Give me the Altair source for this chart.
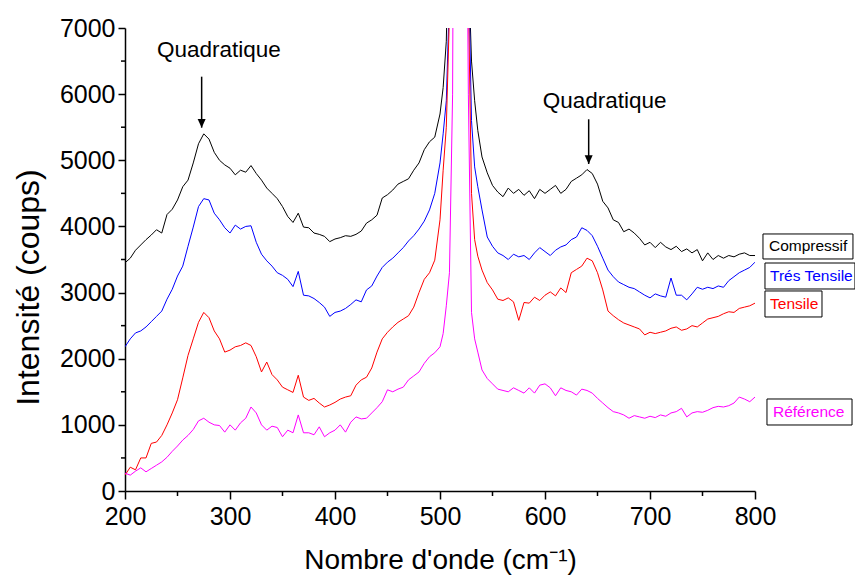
import altair as alt
import pandas as pd

# ---- data (Raman spectra) ----
nombre_onde = (list(range(200, 505, 5))
               + [503, 506, 509, 512, 516, 520, 524, 527, 530, 533, 536, 540]
               + list(range(545, 805, 5)))

compressif = [
    3450, 3520, 3640, 3720, 3800, 3870, 3950, 3900, 4180, 4260,
    4400, 4600, 4700, 4960, 5250, 5400, 5320, 5120, 5000, 4930,
    4880, 4780, 4850, 4820, 4920, 4800, 4700, 4580, 4500, 4420,
    4300, 4150, 4060, 4200, 3990, 3980, 3900, 3880, 3850, 3770,
    3810, 3830, 3860, 3850, 3880, 3930, 4050, 4100, 4170, 4430,
    4480, 4550, 4640, 4680, 4720, 4850, 4960, 5160, 5280, 5350,
    5700,
] + [6100, 6800, 9000, 14000, 30000, 40000, 25000, 8000, 6500, 5900, 5450, 5050] + [
    4810, 4620, 4520, 4450, 4580, 4500, 4560, 4470, 4540, 4420,
    4560, 4500, 4560, 4620, 4500, 4560, 4680, 4730, 4780, 4860,
    4800, 4640, 4380, 4280, 4100, 4060, 3920, 3960, 3900, 3820,
    3720, 3760, 3680, 3760, 3690, 3650, 3700, 3620, 3660, 3600,
    3650, 3480, 3600, 3500, 3560, 3520, 3560, 3540, 3580, 3600,
    3560, 3560,
]

tres_tensile = [
    2180, 2300, 2390, 2420, 2480, 2560, 2640, 2720, 2900, 3050,
    3250, 3400, 3700, 3990, 4300, 4420, 4400, 4200, 4100, 3980,
    3900, 4020, 3960, 4000, 4010, 3760, 3580, 3480, 3400, 3300,
    3260, 3200, 3090, 3320, 2960, 2950, 2910, 2850, 2780, 2640,
    2700, 2720, 2760, 2820, 2890, 2860, 3040, 3100, 3250, 3380,
    3460, 3520, 3600, 3680, 3780, 3860, 3960, 4080, 4250, 4500,
    4960,
] + [5400, 5900, 7500, 12000, 28000, 38000, 22000, 8000, 5600, 4900, 4600, 4250] + [
    3840, 3700, 3600, 3560, 3500, 3580, 3540, 3560, 3500, 3600,
    3680, 3620, 3560, 3640, 3690, 3720, 3800, 3840, 3980, 3940,
    3860, 3700, 3520, 3340, 3240, 3160, 3120, 3080, 3060, 3010,
    2960, 2920, 2980, 2950, 2930, 3220, 2960, 2960, 2890, 2980,
    3080, 3050, 3080, 3060, 3100, 3080, 3180, 3240, 3300, 3340,
    3380, 3460,
]

tensile = [
    240, 360, 320, 500, 500, 720, 740, 840, 1000, 1180,
    1380, 1710, 2050, 2300, 2550, 2700, 2620, 2420, 2300, 2100,
    2130, 2180, 2200, 2240, 2200, 2030, 1800, 1950, 1760, 1680,
    1570, 1530, 1490, 1750, 1420, 1370, 1400, 1330, 1270, 1300,
    1340, 1390, 1420, 1440, 1600, 1680, 1720, 1860, 2100, 2300,
    2400, 2480, 2550, 2600, 2650, 2780, 3000, 3200, 3300, 3490,
    4100,
] + [4850, 5500, 7200, 11000, 26000, 36000, 20000, 7500, 4500, 3800, 3550, 3340] + [
    3150, 3040, 2900, 2880, 2920, 2860, 2580, 2850, 2840, 2930,
    2880, 2960, 3010, 2950, 3070, 3000, 3300, 3350, 3400, 3520,
    3480, 3300, 3040, 2720, 2650, 2590, 2540, 2510, 2480, 2450,
    2360, 2400, 2380, 2400, 2420, 2460, 2480, 2430, 2450, 2500,
    2480, 2540, 2600, 2620, 2640, 2680, 2710, 2700, 2760, 2780,
    2800, 2840,
]

reference = [
    270, 240, 300, 350, 290, 340, 390, 440, 510, 600,
    680, 770, 840, 930, 1060, 1100, 1040, 1000, 990, 890,
    1000, 920, 1030, 1100, 1270, 1180, 1000, 920, 980, 960,
    820, 920, 880, 1150, 880, 880, 850, 970, 820, 880,
    920, 1000, 890, 1040, 1120, 1090, 1100, 1180, 1260, 1350,
    1530, 1500, 1540, 1570, 1680, 1740, 1800, 1930, 2030, 2090,
    2180,
] + [2380, 2800, 3300, 6000, 22000, 45000, 12000, 6000, 2700, 2300, 2100, 1830] + [
    1700, 1620, 1540, 1520, 1500, 1560, 1520, 1480, 1560, 1480,
    1600, 1620, 1560, 1440, 1560, 1520, 1500, 1450, 1540, 1520,
    1480, 1400, 1330, 1260, 1200, 1180, 1150, 1100, 1140, 1120,
    1100, 1130, 1110, 1150, 1130, 1180, 1200, 1250, 1120, 1180,
    1200, 1190, 1220, 1260, 1280, 1270, 1290, 1330, 1420, 1390,
    1350, 1420,
]

series_names = ["Compressif", "Trés Tensile", "Tensile", "Référence"]
series_colors = ["#000000", "#0000ff", "#ff0000", "#ff00ff"]
series_values = [compressif, tres_tensile, tensile, reference]

for v in series_values:
    assert len(v) == len(nombre_onde), (len(v), len(nombre_onde))

rows = []
for name, vals in zip(series_names, series_values):
    for xv, yv in zip(nombre_onde, vals):
        rows.append({"nombre": xv, "intensite": yv, "serie": name})
df = pd.DataFrame(rows)

# annotations
annot_text = ["Quadratique", "Quadratique"]
annot_x = [289.4, 656.8]
annot_y = [6567, 5786]
arrow_x = [273.0, 641.6]
arrow_top = [6264, 5620]
arrow_tip = [5493, 4944]

# labels at the right of the plot
label_x = [813.3, 814.3, 814.3, 817.1]
label_y = [3697, 3251, 2827, 1194]
box_x0 = [807.6, 809.5, 809.5, 811.4]
box_x1 = [893.3, 895.2, 863.8, 892.4]
box_y0 = [3886, 3447, 3024, 1391]
box_y1 = [3508, 3054, 2631, 998]

minor_x = [250, 350, 450, 550, 650, 750]
minor_y = [500, 1500, 2500, 3500, 4500, 5500, 6500]

FONT = "Liberation Sans"
x_scale = alt.Scale(domain=[200, 800], nice=False, zero=False)
y_scale = alt.Scale(domain=[0, 7000], nice=False, zero=False)
color_scale = alt.Scale(domain=series_names, range=series_colors)

x_axis = alt.Axis(
    values=list(range(200, 801, 100)), format="d", labelFontSize=25, labelFont=FONT,
    labelColor="black", labelFlush=False, labelPadding=5, tickSize=8,
    tickWidth=1.5, tickColor="black", domainColor="black", domainWidth=1.5,
    grid=False, title="Nombre d'onde (cm⁻¹)", titleFont=FONT, titleFontSize=28,
    titleFontWeight="normal", titleColor="black", titleBaseline="alphabetic",
    titleY=77,
)
y_axis = alt.Axis(
    values=list(range(0, 7001, 1000)), format="d", labelFontSize=25, labelFont=FONT,
    labelColor="black", labelFlush=False, labelPadding=3, tickSize=7,
    tickWidth=1.5, tickColor="black", domainColor="black", domainWidth=1.5,
    grid=False, title="Intensité (coups)", titleFont=FONT, titleFontSize=32,
    titleFontWeight="normal", titleColor="black", titleAngle=270,
    titleBaseline="middle", titleAlign="center", titleX=-97, titleY=259,
)


def X(field):
    return alt.X(field, scale=x_scale, axis=x_axis)


def Y(field):
    return alt.Y(field, scale=y_scale, axis=y_axis)


lines = alt.Chart(df).mark_line(strokeWidth=1, clip=True).encode(
    x=X("nombre:Q"),
    y=Y("intensite:Q"),
    color=alt.Color("serie:N", scale=color_scale, legend=None),
    detail="serie:N",
)

minor_x_layer = alt.Chart(pd.DataFrame({"v": minor_x})).mark_rule(
    color="black", strokeWidth=1.5
).encode(x=X("v:Q"), y=alt.value(463), y2=alt.value(468))

minor_y_layer = alt.Chart(pd.DataFrame({"v": minor_y})).mark_rule(
    color="black", strokeWidth=1.5
).encode(y=Y("v:Q"), x=alt.value(0), x2=alt.value(-4))

annot_df = pd.DataFrame({"x": annot_x, "y": annot_y, "t": annot_text})
annot_layer = alt.Chart(annot_df).mark_text(
    font=FONT, fontSize=22.5, align="center", baseline="alphabetic", color="black"
).encode(x=X("x:Q"), y=Y("y:Q"), text="t:N")

arrow_df = pd.DataFrame({"x": arrow_x, "top": arrow_top, "tip": arrow_tip})
arrow_rule = alt.Chart(arrow_df).mark_rule(color="black", strokeWidth=1.5).encode(
    x=X("x:Q"), y=Y("top:Q"), y2="tip:Q",
)
arrow_head = alt.Chart(arrow_df).mark_point(
    shape="M-1,-2.2L1,-2.2L0,0Z", size=64, filled=True, color="black", opacity=1
).encode(x=X("x:Q"), y=Y("tip:Q"))

box_df = pd.DataFrame({"x0": box_x0, "x1": box_x1, "y0": box_y0, "y1": box_y1})
boxes = alt.Chart(box_df).mark_rect(fill="white", stroke="black", strokeWidth=1).encode(
    x=X("x0:Q"), x2="x1:Q", y=Y("y0:Q"), y2="y1:Q",
)

label_df = pd.DataFrame({"x": label_x, "y": label_y, "serie": series_names})
labels = alt.Chart(label_df).mark_text(
    font=FONT, fontSize=15.5, align="left", baseline="middle"
).encode(
    x=X("x:Q"),
    y=Y("y:Q"),
    text="serie:N",
    color=alt.Color("serie:N", scale=color_scale, legend=None),
)

chart = alt.layer(
    lines, minor_x_layer, minor_y_layer, annot_layer, arrow_rule, arrow_head, boxes, labels
).properties(
    width=630, height=463,
    autosize=alt.AutoSizeParams(type="none"),
    padding={"left": 117, "top": 20, "right": 100, "bottom": 86},
    background="white",
).configure_view(stroke=None)

chart.save("out.html", embed_options={"renderer": "svg", "actions": False})
